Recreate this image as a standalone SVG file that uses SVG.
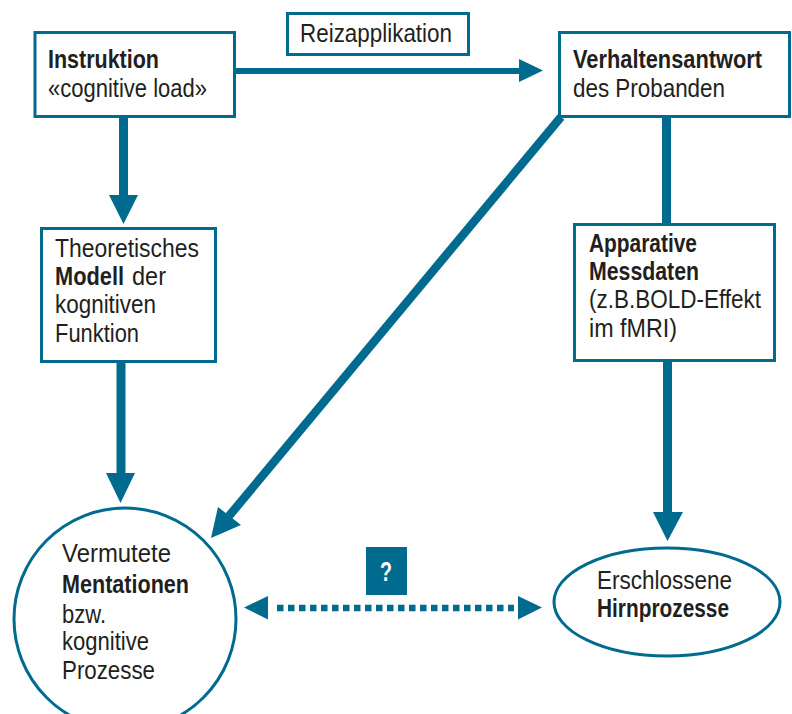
<svg xmlns="http://www.w3.org/2000/svg" width="792" height="714" viewBox="0 0 792 714">
<style>
.box{fill:#fff;stroke:#006a8f;stroke-width:3}
.t{font-family:"Liberation Sans",Arial,sans-serif;font-size:25px;fill:#231f20}
.b{font-weight:bold}
.ln{stroke:#006a8f;fill:none}
.ah{fill:#006a8f}
</style>
<rect width="792" height="714" fill="#fff"/>
<g id="connectors">
  <line class="ln" x1="123.5" y1="117" x2="123.5" y2="196" stroke-width="9"/>
  <polygon class="ah" points="109,195 138,195 123.5,224"/>
  <line class="ln" x1="121" y1="362" x2="121" y2="474" stroke-width="9"/>
  <polygon class="ah" points="106,473 135,473 120.5,503"/>
  <line class="ln" x1="235" y1="71" x2="520" y2="71" stroke-width="6"/>
  <polygon class="ah" points="519,59 519,82 543,70.5"/>
  <line class="ln" x1="666.5" y1="117" x2="666.5" y2="224" stroke-width="9"/>
  <line class="ln" x1="667.5" y1="361" x2="667.5" y2="513" stroke-width="9"/>
  <polygon class="ah" points="653,512 683,512 667.5,541"/>
  <line class="ln" x1="561" y1="117" x2="229" y2="516" stroke-width="8.5"/>
  <polygon class="ah" points="218,507 241,525 211,538"/>
  <line class="ln" x1="277" y1="608" x2="514" y2="608" stroke-width="6.5" stroke-dasharray="6.5 4.5"/>
  <polygon class="ah" points="268,596 268,619.5 244,607.5"/>
  <polygon class="ah" points="518,596 518,619.5 542,607.5"/>
</g>
<g id="instruktion">
  <rect class="box" x="35" y="32.5" width="199.5" height="84"/>
  <text class="t b" x="48" y="68" textLength="111" lengthAdjust="spacingAndGlyphs">Instruktion</text>
  <text class="t" x="48" y="97" textLength="159" lengthAdjust="spacingAndGlyphs">«cognitive load»</text>
</g>
<g id="reizapplikation">
  <rect class="box" x="287.5" y="13.5" width="181" height="41"/>
  <text class="t" x="300" y="42" textLength="152" lengthAdjust="spacingAndGlyphs">Reizapplikation</text>
</g>
<g id="verhaltensantwort">
  <rect class="box" x="559.5" y="32.5" width="230" height="84"/>
  <text class="t b" x="573" y="68" textLength="189" lengthAdjust="spacingAndGlyphs">Verhaltensantwort</text>
  <text class="t" x="573" y="97" textLength="152" lengthAdjust="spacingAndGlyphs">des Probanden</text>
</g>
<g id="modell">
  <rect class="box" x="41.5" y="228.5" width="174" height="133"/>
  <text class="t" x="55" y="257" textLength="144" lengthAdjust="spacingAndGlyphs">Theoretisches</text>
  <text class="t b" x="55" y="285" textLength="69" lengthAdjust="spacingAndGlyphs">Modell</text>
  <text class="t" x="132" y="285" textLength="34" lengthAdjust="spacingAndGlyphs">der</text>
  <text class="t" x="55" y="313" textLength="101" lengthAdjust="spacingAndGlyphs">kognitiven</text>
  <text class="t" x="55" y="342" textLength="84" lengthAdjust="spacingAndGlyphs">Funktion</text>
</g>
<g id="messdaten">
  <rect class="box" x="574.5" y="224.5" width="200" height="136"/>
  <text class="t b" x="589" y="252" textLength="108" lengthAdjust="spacingAndGlyphs">Apparative</text>
  <text class="t b" x="589" y="280" textLength="110" lengthAdjust="spacingAndGlyphs">Messdaten</text>
  <text class="t" x="589" y="308" textLength="172" lengthAdjust="spacingAndGlyphs">(z.B.BOLD-Effekt</text>
  <text class="t" x="589" y="337" textLength="88" lengthAdjust="spacingAndGlyphs">im fMRI)</text>
</g>
<g id="mentationen">
  <circle class="box" cx="125" cy="619" r="111"/>
  <text class="t" x="62" y="562" textLength="109" lengthAdjust="spacingAndGlyphs">Vermutete</text>
  <text class="t b" x="62" y="593" textLength="127" lengthAdjust="spacingAndGlyphs">Mentationen</text>
  <text class="t" x="62" y="623" textLength="44" lengthAdjust="spacingAndGlyphs">bzw.</text>
  <text class="t" x="62" y="650" textLength="87" lengthAdjust="spacingAndGlyphs">kognitive</text>
  <text class="t" x="62" y="679" textLength="93" lengthAdjust="spacingAndGlyphs">Prozesse</text>
</g>
<g id="hirnprozesse">
  <ellipse class="box" cx="667" cy="602" rx="113" ry="54"/>
  <text class="t" x="597" y="589" textLength="135" lengthAdjust="spacingAndGlyphs">Erschlossene</text>
  <text class="t b" x="597" y="617" textLength="132" lengthAdjust="spacingAndGlyphs">Hirnprozesse</text>
</g>
<g id="frage">
  <rect x="366" y="547" width="41" height="48" fill="#006a8f"/>
  <text class="b" x="386" y="581" text-anchor="middle" font-family="Liberation Sans,Arial,sans-serif" font-size="27" fill="#fff" textLength="12" lengthAdjust="spacingAndGlyphs">?</text>
</g>
</svg>
